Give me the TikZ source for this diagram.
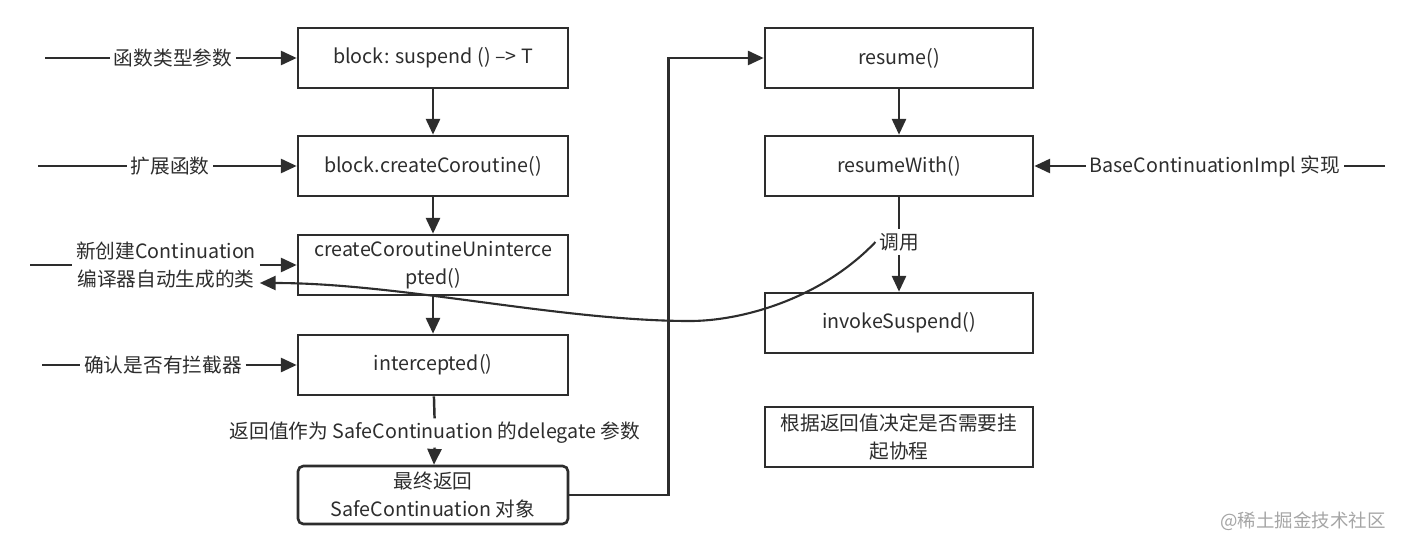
\documentclass[tikz,border=0pt]{standalone}
\usepackage{fontspec}
\setmainfont{Noto Sans CJK SC}
\usepackage{tikz}
\usetikzlibrary{arrows.meta,positioning}
\definecolor{flowgray}{RGB}{45,45,45}
\definecolor{markgray}{RGB}{165,165,165}

\begin{document}
\begin{tikzpicture}[
  every node/.style={font=\fontsize{11.2}{16}\selectfont, text=flowgray},
  box/.style={draw=flowgray, line width=1.5pt, fill=white,
              minimum width=5.4cm, minimum height=1.2cm, align=center},
  boxR/.style={box, minimum width=5.36cm},
  boxEnd/.style={box, rounded corners=3pt, minimum height=1.15cm},
  lab/.style={inner sep=2pt, align=center},
  arrow/.style={-{Triangle[length=9pt,width=8pt]}, line width=1.4pt, flowgray},
]
\useasboundingbox (0,0) rectangle (28.04,10.96);

%% ── Left column: coroutine creation ─────────────────────────────────────────
\node[box]    (blk) at (8.66,9.80) {block: suspend () –> T};
\node[box]    (crc) at (8.66,7.64) {block.createCoroutine()};
\node[box]    (cru) at (8.66,5.66) {createCoroutineUninterce\\pted()};
\node[box]    (icp) at (8.66,3.66) {intercepted()};
\node[boxEnd] (fin) at (8.66,1.06) {最终返回\\SafeContinuation 对象};

%% ── Right column: resume path ───────────────────────────────────────────────
\node[boxR] (res) at (17.98,9.80) {resume()};
\node[boxR] (rsw) at (17.98,7.64) {resumeWith()};
\node[boxR] (inv) at (17.98,4.50) {invokeSuspend()};
\node[boxR] (dec) at (17.98,2.22) {根据返回值决定是否需要挂\\起协程};

%% ── Side labels ─────────────────────────────────────────────────────────────
\node[lab] (fnType)   at (3.46,9.80) {函数类型参数};
\node[lab] (extFn)    at (3.40,7.64) {扩展函数};
\node[lab] (newCont)  at (3.32,5.66) {新创建Continuation\\编译器自动生成的类};
\node[lab] (chkIcp)   at (3.26,3.66) {确认是否有拦截器};
\node[lab] (baseImpl) at (24.30,7.64) {BaseContinuationImpl 实现};
\node[lab] (retVal)   at (8.70,2.30) {返回值作为 SafeContinuation 的delegate 参数};
\node[lab] (call)     at (17.98,6.12) {调用};

\coordinate (in1) at (0.90,9.80);
\coordinate (in2) at (0.76,7.64);
\coordinate (in3) at (0.60,5.66);
\coordinate (in4) at (0.84,3.66);
\coordinate (in5) at (27.70,7.64);

%% ── Arrows ──────────────────────────────────────────────────────────────────
% inputs into the left column
\draw[arrow] (in1) -- (fnType) -- (blk);
\draw[arrow] (in2) -- (extFn) -- (crc);
\draw[arrow] (in3) -- (newCont) -- (cru);
\draw[arrow] (in4) -- (chkIcp) -- (icp);

% left chain
\draw[arrow] (blk) -- (crc);
\draw[arrow] (crc) -- (cru);
\draw[arrow] (cru) -- (icp);
\draw[arrow] (icp) -- (retVal) -- (fin);

% SafeContinuation -> resume
\draw[arrow] (fin.east) -- ++(1.98,0) |- (res.west);

% right chain
\draw[arrow] (res) -- (rsw);
\draw[arrow] (rsw) -- (call) -- (inv);
\draw[arrow] (in5) -- (baseImpl) -- (rsw);

% call back into the generated class
\draw[arrow, line width=1.2pt] (call.west) .. controls (16.4,4.96) and (14.8,4.54) .. (13.8,4.54)
  .. controls (11.2,4.54) and (8.0,5.30) .. ([yshift=-0.36cm]newCont.east);

%% ── Watermark ───────────────────────────────────────────────────────────────
\node[text=markgray, font=\fontsize{10.5}{12}\selectfont] (mark) at (26.06,0.54) {@稀土掘金技术社区};

\end{tikzpicture}
\end{document}
